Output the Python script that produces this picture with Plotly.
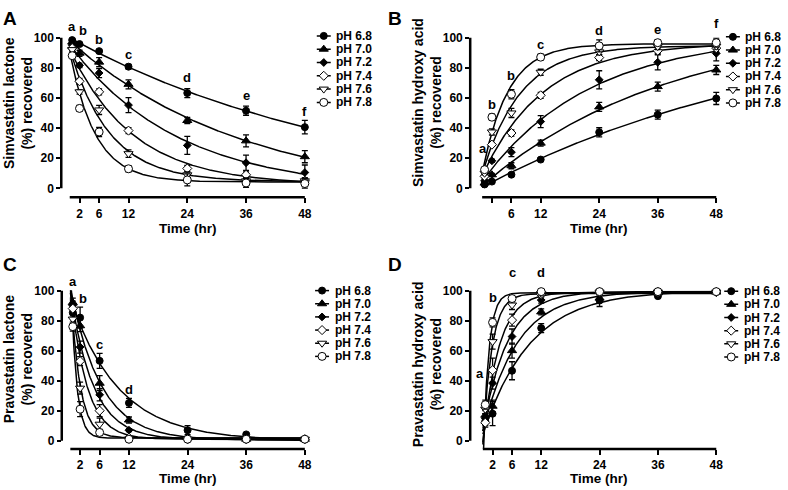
import numpy as np
import plotly.graph_objects as go

# ---------------- data ----------------
times = [0.5, 2, 6, 12, 24, 36, 48]
ph_labels = ["pH 6.8", "pH 7.0", "pH 7.2", "pH 7.4", "pH 7.6", "pH 7.8"]
x_tick_vals = [2, 6, 12, 24, 36, 48]
y_tick_vals = [0, 20, 40, 60, 80, 100]

sim_lactone_mean = [
    [98.3, 95.7, 91.0, 80.7, 63.2, 51.5, 40.6],
    [97.0, 89.6, 83.7, 69.0, 45.0, 31.5, 21.0],
    [95.0, 81.5, 76.5, 55.2, 28.5, 17.0, 10.5],
    [93.0, 71.0, 64.0, 38.3, 13.2, 9.0, 5.0],
    [92.0, 64.0, 52.0, 23.0, 9.0, 5.0, 5.0],
    [88.0, 53.0, 37.4, 13.0, 5.6, 3.6, 3.2],
]
sim_lactone_sem = [
    [1, 1, 1, 1.5, 3, 3, 4.5],
    [1, 2, 3, 3, 2, 4, 4],
    [1, 1.5, 3, 5, 6, 5, 5],
    [1, 2, 2, 2, 2, 2, 2],
    [1, 1.5, 3, 2.5, 2, 2, 2],
    [1, 2, 3, 2, 4, 3, 3],
]

sim_acid_mean = [
    [2.6, 4.5, 9.1, 19.1, 37.2, 48.9, 59.6],
    [3.5, 9.0, 15.0, 30.0, 54.0, 67.5, 78.5],
    [5.0, 18.3, 24.0, 44.3, 72.0, 83.6, 89.5],
    [8.0, 29.0, 36.7, 61.7, 86.7, 91.3, 93.0],
    [10.0, 37.4, 50.0, 77.0, 90.5, 94.0, 94.3],
    [12.4, 47.2, 62.4, 87.0, 94.5, 96.6, 96.6],
]
sim_acid_sem = [
    [1, 1, 1, 1, 3, 3, 4],
    [1, 1, 2, 2, 3, 3, 3],
    [1, 1, 3, 4, 6, 5, 5],
    [1, 1, 2, 2, 2, 2, 2],
    [1, 2, 3, 2, 2, 2, 2],
    [1, 2, 3, 2, 4, 2, 3],
]

pra_lactone_mean = [
    [85.3, 82.0, 53.2, 25.2, 7.0, 4.2, 1.0],
    [92.0, 76.6, 38.3, 13.8, 2.0, 1.0, 1.0],
    [90.0, 62.4, 30.6, 7.0, 1.0, 1.0, 1.0],
    [88.0, 53.0, 20.0, 2.0, 1.0, 1.0, 1.0],
    [81.0, 35.0, 11.0, 1.0, 1.0, 1.0, 1.0],
    [76.0, 21.0, 5.5, 1.0, 1.0, 1.0, 1.0],
]
pra_lactone_sem = [
    [3, 7, 5, 3, 3, 1, 1],
    [3, 4, 5, 2, 1, 1, 1],
    [3, 4, 4, 1, 1, 1, 1],
    [3, 3, 4, 1, 1, 1, 1],
    [3, 4, 4, 1, 1, 1, 1],
    [3, 5, 2, 1, 1, 1, 1],
]

pra_acid_mean = [
    [13.0, 18.0, 46.6, 75.0, 93.4, 96.3, 99.0],
    [17.0, 23.0, 60.0, 85.8, 95.0, 98.5, 99.0],
    [15.0, 38.3, 69.4, 93.7, 98.5, 99.0, 99.0],
    [12.0, 47.0, 80.3, 97.4, 99.0, 99.0, 99.0],
    [21.0, 66.0, 90.4, 98.0, 99.0, 99.0, 99.0],
    [24.0, 78.8, 94.7, 99.3, 99.3, 99.3, 99.3],
]
pra_acid_sem = [
    [3, 8, 6, 3, 4, 1, 1],
    [3, 4, 5, 2, 2, 1, 1],
    [3, 4, 5, 2, 1, 1, 1],
    [3, 8, 4, 1, 1, 1, 1],
    [3, 5, 3, 1, 1, 1, 1],
    [3, 3, 2, 1, 1, 1, 1],
]

panel_letters = ["A", "B", "C", "D"]
y_titles = ["Simvastatin lactone<br>(%) recovered",
            "Simvastatin hydroxy acid<br>(%) recovered",
            "Pravastatin lactone<br>(%) recovered",
            "Pravastatin hydroxy acid<br>(%) recovered"]
x_title = "Time (hr)"

# significance letters: (time index, letter)
sig_A = [(0, "a"), (1, "b"), (2, "b"), (3, "c"), (4, "d"), (5, "e"), (6, "f")]
sig_B = [(0, "a"), (1, "b"), (2, "b"), (3, "c"), (4, "d"), (5, "e"), (6, "f")]
sig_C = [(0, "a"), (1, "b"), (2, "c"), (3, "d")]
sig_D = [(0, "a"), (1, "b"), (2, "c"), (3, "d")]

# ---------------- styling / layout ----------------
W, H = 788, 490
FONT = "Liberation Sans, Arial, sans-serif"

def px(xp):
    return xp / W

def py(yp):
    return 1 - yp / H

marker_styles = [
    dict(symbol="circle", size=7, color="black", line=dict(color="black", width=1)),
    dict(symbol="triangle-up", size=8, color="black", line=dict(color="black", width=1)),
    dict(symbol="diamond", size=6, color="black", line=dict(color="black", width=1)),
    dict(symbol="diamond", size=7, color="white", line=dict(color="black", width=1)),
    dict(symbol="triangle-down", size=8, color="white", line=dict(color="black", width=1)),
    dict(symbol="circle", size=8, color="white", line=dict(color="black", width=1)),
]

panels = [
    dict(means=sim_lactone_mean, sems=sim_lactone_sem, sig=sig_A,
         sig_shift=[(0, 12), (3, 12), (0, 10), (0, 10), (0, 11), (0, 11), (0, 9)],
         left=61.5, t0=70.0, t48=306.0, top=31.0, zero=184.0, bottom=193.0,
         leg=(325.0, 29.3, 13.5), ylab=(17.5, 97.0), xlab=(188.5, 224.5),
         plab=(10.0, 12.0), hide2=False),
    dict(means=sim_acid_mean, sems=sim_acid_sem, sig=sig_B,
         sig_shift=[(-2, 20), (0, 10), (0, 14), (0, 10), (0, 9), (0, 10), (0, 15)],
         left=472.0, t0=484.0, t48=719.0, top=31.0, zero=184.0, bottom=193.0,
         leg=(735.7, 30.3, 13.4), ylab=(428.0, 97.0), xlab=(601.5, 224.5),
         plab=(397.0, 12.0), hide2=True),
    dict(means=pra_lactone_mean, sems=pra_lactone_sem, sig=sig_C,
         sig_shift=[(0, 17), (3, 9), (0, 9), (0, 9)],
         left=62.0, t0=70.6, t48=306.0, top=287.7, zero=440.0, bottom=448.3,
         leg=(323.3, 287.7, 13.35), ylab=(17.5, 357.0), xlab=(189.0, 478.5),
         plab=(10.0, 261.0), hide2=False),
    dict(means=pra_acid_mean, sems=pra_acid_sem, sig=sig_D,
         sig_shift=[(-5, 27), (0, 20), (0, 23), (0, 18)],
         left=472.0, t0=484.7, t48=719.0, top=287.7, zero=440.0, bottom=448.3,
         leg=(734.0, 288.3, 13.35), ylab=(428.0, 362.0), xlab=(601.5, 478.5),
         plab=(397.0, 261.0), hide2=False),
]


def fit_exp(t, y):
    """One-phase exponential least-squares fit: y = P + D*exp(-k t)."""
    t = np.asarray(t, float)
    y = np.asarray(y, float)
    best = None
    for k in np.logspace(-3, 1.3, 2500):
        e = np.exp(-k * t)
        M = np.column_stack([np.ones_like(t), e])
        coef, *_ = np.linalg.lstsq(M, y, rcond=None)
        sse = float(np.sum((M @ coef - y) ** 2))
        if best is None or sse < best[0]:
            best = (sse, k, coef)
    return best[1], best[2]


fig = go.Figure()
layout = dict(width=W, height=H, margin=dict(l=0, r=0, t=0, b=0),
              paper_bgcolor="white", plot_bgcolor="white", showlegend=False,
              font=dict(family=FONT, size=12, color="black", weight="bold"))
shapes = []
annotations = []
t_curve = np.linspace(0, 48, 500)

for pi, p in enumerate(panels):
    n = pi + 1
    xa = "x" if n == 1 else f"x{n}"
    ya = "y" if n == 1 else f"y{n}"
    xkey = "xaxis" if n == 1 else f"xaxis{n}"
    ykey = "yaxis" if n == 1 else f"yaxis{n}"
    scale_x = (p["t48"] - p["t0"]) / 48.0
    ppu = (p["zero"] - p["top"]) / 100.0
    x_left = -(p["t0"] - p["left"]) / scale_x
    x_right = 48.8
    right_px = p["t0"] + x_right * scale_x
    y_bottom = -(p["bottom"] - p["zero"]) / ppu

    ticktext = [str(v) for v in x_tick_vals]
    if p["hide2"]:
        ticktext[0] = ""

    layout[xkey] = dict(domain=[px(p["left"]), px(right_px)], range=[x_left, x_right],
                        anchor=ya, showgrid=False, zeroline=False, showline=False,
                        ticks="outside", ticklen=5, tickwidth=2, tickcolor="black",
                        tickvals=x_tick_vals, ticktext=ticktext,
                        tickfont=dict(family=FONT, size=12, color="black", weight="bold"))
    layout[ykey] = dict(domain=[py(p["bottom"]), py(p["top"])], range=[y_bottom, 100],
                        anchor=xa, showgrid=False, zeroline=False, showline=False,
                        ticks="outside", ticklen=4, tickwidth=2, tickcolor="black",
                        tickvals=y_tick_vals,
                        tickfont=dict(family=FONT, size=12, color="black", weight="bold"))

    shapes.append(dict(type="line", xref=f"{xa} domain", yref=ya, x0=0, x1=0, y0=0, y1=100,
                       line=dict(color="black", width=2.5)))
    shapes.append(dict(type="line", xref=xa, yref=f"{ya} domain", x0=0, x1=48, y0=0, y1=0,
                       line=dict(color="black", width=2.5)))

    for si in range(6):
        k, coef = fit_exp(times, p["means"][si])
        yy = coef[0] + coef[1] * np.exp(-k * t_curve)
        fig.add_trace(go.Scatter(x=t_curve.tolist(), y=yy.tolist(), mode="lines",
                                 line=dict(color="black", width=1.5),
                                 xaxis=xa, yaxis=ya, hoverinfo="skip"))
    for si in range(6):
        fig.add_trace(go.Scatter(x=times, y=p["means"][si], mode="markers",
                                 marker=marker_styles[si], cliponaxis=False,
                                 error_y=dict(type="data", array=p["sems"][si], visible=True,
                                              color="black", thickness=1.3, width=3),
                                 xaxis=xa, yaxis=ya, name=ph_labels[si]))

    for (ti, letter), (dx, dy) in zip(p["sig"], p["sig_shift"]):
        top = max(p["means"][s][ti] + p["sems"][s][ti] for s in range(6))
        extra = 0.0
        if top > 99.5:  # keep the anchor inside the axis range (else plotly hides it)
            extra = (top - 99.5) * ppu
            top = 99.5
        annotations.append(dict(x=times[ti], y=top, xref=xa, yref=ya, text=letter,
                                showarrow=False, xanchor="center", yanchor="middle",
                                xshift=dx, yshift=dy + extra,
                                font=dict(family=FONT, size=13, color="black", weight="bold")))

    annotations.append(dict(x=px(p["ylab"][0]), y=py(p["ylab"][1]), xref="paper", yref="paper",
                            text=y_titles[pi], textangle=-90, showarrow=False,
                            xanchor="center", yanchor="middle",
                            font=dict(family=FONT, size=14, color="black", weight="bold")))
    annotations.append(dict(x=px(p["xlab"][0]), y=py(p["xlab"][1]), xref="paper", yref="paper",
                            text=x_title, showarrow=False, xanchor="center", yanchor="middle",
                            font=dict(family=FONT, size=13.5, color="black", weight="bold")))
    annotations.append(dict(x=px(p["plab"][0]), y=py(p["plab"][1]), xref="paper", yref="paper",
                            text=panel_letters[pi], showarrow=False, xanchor="center",
                            yanchor="middle",
                            font=dict(family=FONT, size=19, color="black", weight="bold")))

    ln = n + 4
    lxa, lya = f"x{ln}", f"y{ln}"
    mx, r0, sp = p["leg"]
    layout[f"xaxis{ln}"] = dict(domain=[px(mx - 10), px(mx + 10)], range=[-1, 1],
                                visible=False, anchor=lya, fixedrange=True)
    layout[f"yaxis{ln}"] = dict(domain=[py(r0 + 5.5 * sp), py(r0 - 0.5 * sp)],
                                range=[5.5, -0.5], visible=False, anchor=lxa, fixedrange=True)
    for si in range(6):
        fig.add_trace(go.Scatter(x=[0], y=[si], mode="markers", marker=marker_styles[si],
                                 cliponaxis=False,
                                 error_x=dict(type="constant", value=0.7, width=0,
                                              thickness=1.5, color="black"),
                                 xaxis=lxa, yaxis=lya, hoverinfo="skip"))
        annotations.append(dict(x=px(mx + 10.5), y=py(r0 + si * sp), xref="paper", yref="paper",
                                text=ph_labels[si], showarrow=False, xanchor="left",
                                yanchor="middle",
                                font=dict(family=FONT, size=12, color="black", weight="bold")))

layout["shapes"] = shapes
layout["annotations"] = annotations
fig.update_layout(**layout)
fig.write_html("out.html",
               config={"displayModeBar": False},
               post_script="document.body.style.margin='0px';document.body.style.overflow='hidden';")
